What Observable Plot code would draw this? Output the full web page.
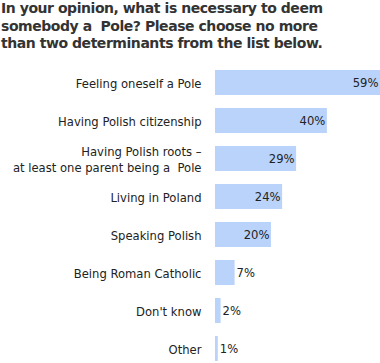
<!DOCTYPE html>
<html><head><meta charset="utf-8">
<script src="https://cdn.jsdelivr.net/npm/d3@7"></script>
<script src="https://cdn.jsdelivr.net/npm/@observablehq/plot@0.6"></script>
<style>
body{margin:0;background:#fff;font-family:"DejaVu Sans",Verdana,sans-serif;}
#title{font-weight:bold;font-size:14px;letter-spacing:-0.45px;line-height:17.5px;color:#333;padding:0 0 0 1px;height:60px;box-sizing:border-box;white-space:nowrap;}
#chart svg{display:block;}
</style></head><body>
<div id="title">In your opinion, what is necessary to deem<br>somebody a&nbsp; Pole? Please choose no more<br>than two determinants from the list below.</div>
<div id="chart"></div>
<script>
const categories = [
  "Feeling oneself a Pole",
  "Having Polish citizenship",
  "Having Polish roots –\nat least one parent being a  Pole",
  "Living in Poland",
  "Speaking Polish",
  "Being Roman Catholic",
  "Don't know",
  "Other"
];
const values = [59, 40, 29, 24, 20, 7, 2, 1];
const data = categories.map((c, i) => ({category: c, value: values[i]}));
const chart = Plot.plot({
  width: 380, height: 303,
  marginLeft: 215, marginRight: 0, marginTop: 8, marginBottom: 0,
  style: {fontFamily: "DejaVu Sans, Verdana, sans-serif", fontSize: "11.6px", color: "#222", background: "#fff"},
  x: {domain: [0, 59], axis: null},
  y: {domain: categories, paddingInner: 0.35, paddingOuter: 0, axis: null},
  marks: [
    Plot.barX(data, {x: "value", y: "category", fill: "#b9d3fb"}),
    Plot.axisY({tickSize: 0, tickPadding: 14, lineHeight: 1.4, fill: "#222", label: null}),
    Plot.text(data.filter(d => d.value >= 20), {x: "value", y: "category", text: d => d.value + "%", textAnchor: "end", dx: -2, fill: "#222"}),
    Plot.text(data.filter(d => d.value < 20), {x: "value", y: "category", text: d => d.value + "%", textAnchor: "start", dx: 1.5, fill: "#222"})
  ]
});
document.getElementById("chart").appendChild(chart);
</script>
</body></html>
